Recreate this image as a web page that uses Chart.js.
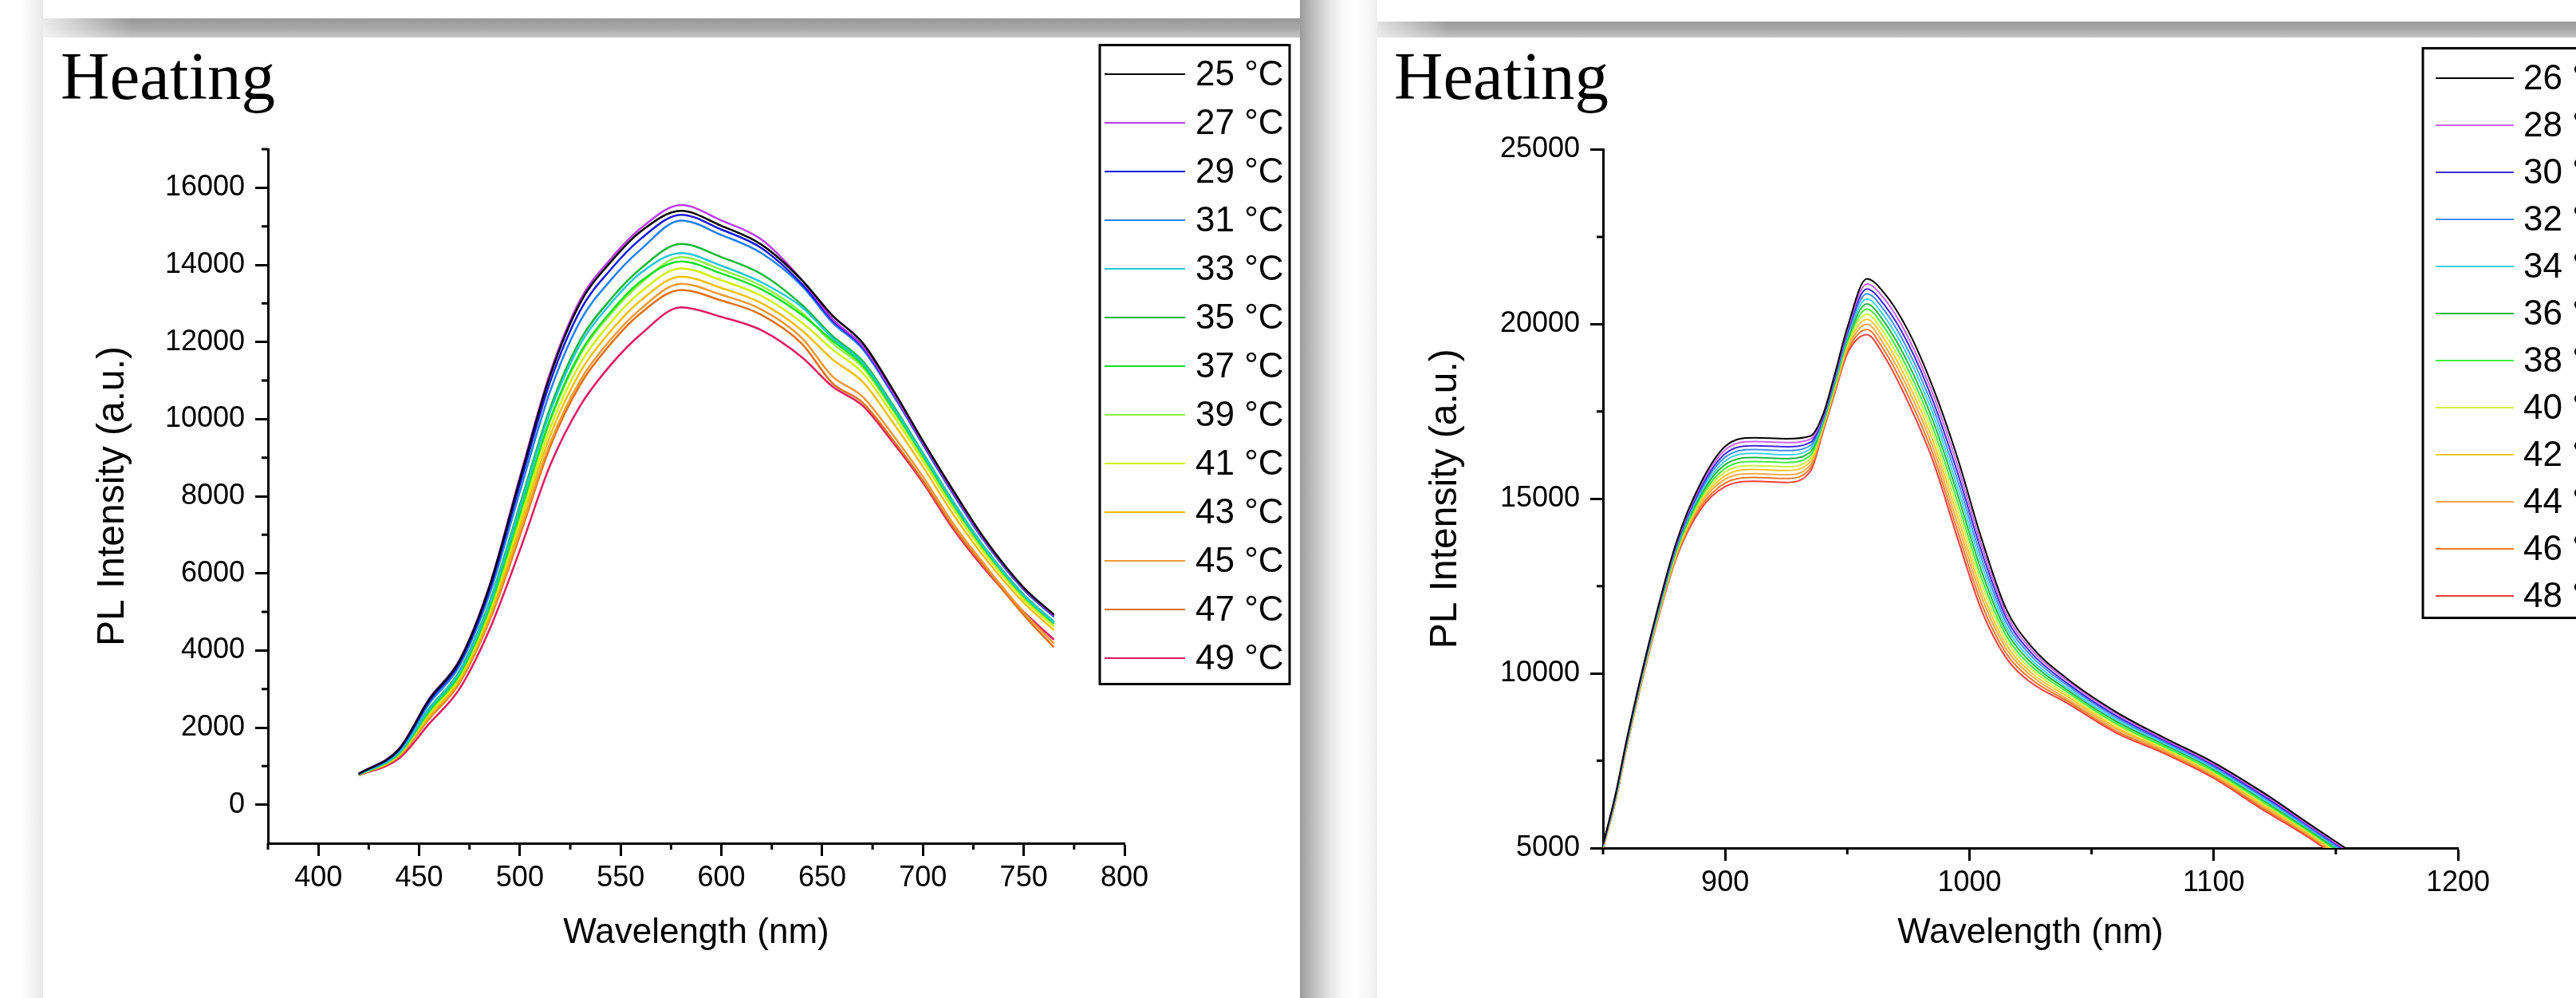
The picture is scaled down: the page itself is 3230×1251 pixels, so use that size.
<!DOCTYPE html>
<html>
<head>
<meta charset="utf-8">
<title>Heating</title>
<script src="https://cdn.jsdelivr.net/npm/chart.js@4/dist/chart.umd.min.js"></script>
<style>
body { margin: 0; width: 3230px; height: 1251px; overflow: hidden; background: #fff; position: relative; }
.shade, .panel { position: absolute; }
.panel { top: 47px; height: 1204px; background: #fff; }
#leftPanel { left: 54px; width: 1576px; }
#rightPanel { left: 1727px; width: 1503px; }
#edge { left: 26px; top: 0; width: 28px; height: 1251px; background: linear-gradient(to right, #fff, #f5f5f5 45%, #e9e9e9); }
#bandLeft { left: 54px; top: 23px; width: 1576px; height: 24px; background: linear-gradient(to bottom, #979797, #a8a8a8 50%, #c5c5c5); }
#bandRight { left: 1727px; top: 27px; width: 1503px; height: 20px; background: linear-gradient(to bottom, #999, #aaa 50%, #c3c3c3); }
#fadeLeft { left: 54px; top: 23px; width: 110px; height: 24px; background: linear-gradient(to right, rgba(255,255,255,0.8), rgba(255,255,255,0)); }
#fadeRight { left: 1727px; top: 27px; width: 90px; height: 20px; background: linear-gradient(to right, rgba(255,255,255,0.7), rgba(255,255,255,0)); }
#gap { left: 1630px; top: 0; width: 97px; height: 1251px; background: linear-gradient(to right, #9b9b9b, #b3b3b3 12%, #cecece 26%, #e6e6e6 40%, #f9f9f9 55%, #fff 72%, #f6f6f6 90%, #ededed); }
</style>
</head>
<body>
<div class="shade" id="edge"></div>
<div class="shade" id="bandLeft"></div>
<div class="shade" id="fadeLeft"></div>
<div class="shade" id="gap"></div>
<div class="shade" id="bandRight"></div>
<div class="shade" id="fadeRight"></div>
<div class="panel" id="leftPanel"><canvas id="leftChart" width="1576" height="1204"></canvas></div>
<div class="panel" id="rightPanel"><canvas id="rightChart" width="1503" height="1204"></canvas></div>
<script>
'use strict';
Chart.defaults.color = '#000';
Chart.defaults.font.family = 'Liberation Sans';

//Left panel: visible spectra, 25-49 °C
var leftWavelengths = [420, 440, 455, 470, 485, 500, 515, 530, 545, 560, 580, 600, 620, 640, 655, 670, 685, 700, 715, 730, 750, 765];
var leftTemps = [25, 27, 29, 31, 33, 35, 37, 39, 41, 43, 45, 47, 49];
var leftColors = ['#000000', '#b83cf0', '#1818e0', '#2080f0', '#20c8d8', '#10b838', '#10e020', '#90f040', '#d0f000', '#f0c000', '#f09830', '#e07010', '#e01860'];
var left25 = [800, 1440, 2730, 3730, 5670, 8440, 11130, 13020, 14070, 14870, 15400, 15010, 14520, 13600, 12690, 11980, 10770, 9430, 8150, 6940, 5630, 4930];
var left27 = [800, 1450, 2750, 3750, 5700, 8500, 11200, 13100, 14150, 14950, 15550, 15150, 14650, 13600, 12600, 11900, 10700, 9380, 8100, 6900, 5600, 4900];
var left29 = [800, 1425, 2685, 3675, 5585, 8310, 10960, 12825, 13875, 14675, 15300, 14915, 14430, 13500, 12565, 11870, 10675, 9360, 8080, 6885, 5590, 4890];
var left31 = [792, 1400, 2620, 3600, 5470, 8120, 10720, 12550, 13600, 14400, 15150, 14775, 14300, 13450, 12510, 11820, 10635, 9330, 8050, 6860, 5570, 4870];
var left33 = [783, 1345, 2480, 3435, 5215, 7700, 10190, 11945, 12995, 13795, 14305, 13975, 13545, 12900, 12110, 11466, 10336, 9092, 7834, 6690, 5432, 4726];
var left35 = [785, 1355, 2500, 3465, 5265, 7780, 10290, 12055, 13105, 13905, 14545, 14200, 13757, 12960, 12160, 11510, 10375, 9120, 7860, 6710, 5450, 4745];
var left37 = [780, 1325, 2425, 3375, 5125, 7550, 10000, 11725, 12775, 13575, 14090, 13775, 13360, 12700, 12040, 11404, 10284, 9050, 7796, 6660, 5408, 4702];
var left39 = [779, 1320, 2412, 3360, 5102, 7512, 9952, 11670, 12720, 13520, 14200, 13875, 13450, 12760, 11970, 11342, 10232, 9009, 7758, 6630, 5384, 4677];
var left41 = [776, 1300, 2360, 3300, 5010, 7360, 9760, 11450, 12500, 13300, 13907, 13600, 13193, 12500, 11812, 11202, 10115, 8916, 7672, 6562, 5330, 4621];
var left43 = [773, 1280, 2308, 3240, 4918, 7208, 9568, 11230, 12280, 13080, 13695, 13400, 13005, 12300, 11550, 10970, 9920, 8762, 7530, 6450, 5240, 4528];
var left45 = [770, 1260, 2256, 3180, 4826, 7056, 9376, 11010, 12060, 12860, 13510, 13225, 12840, 12100, 11112, 10582, 9595, 8505, 7292, 6262, 4990, 4180];
var left47 = [768, 1250, 2230, 3150, 4780, 6980, 9280, 10900, 11950, 12750, 13350, 13075, 12700, 11950, 10937, 10428, 9465, 8400, 7198, 6188, 4920, 4080];
var left49 = [760, 1200, 2100, 3000, 4550, 6600, 8800, 10350, 11400, 12200, 12900, 12650, 12300, 11600, 10850, 10350, 9400, 8350, 7150, 6150, 5000, 4280];
var leftSeries = [left25, left27, left29, left31, left33, left35, left37, left39, left41, left43, left45, left47, left49];
var leftXTicks = [400, 450, 500, 550, 600, 650, 700, 750, 800];
var leftXMinor = [375, 425, 475, 525, 575, 625, 675, 725, 775];
var leftYTicks = [0, 2000, 4000, 6000, 8000, 10000, 12000, 14000, 16000];
var leftYMinor = [1000, 3000, 5000, 7000, 9000, 11000, 13000, 15000, 17000];

//Right panel: NIR spectra, 26-48 °C
var rightWavelengths = [850, 855, 860, 870, 880, 890, 900, 912, 925, 935, 940, 945, 950, 958, 965, 975, 985, 995, 1005, 1015, 1025, 1040, 1060, 1080, 1100, 1120, 1140, 1155];
var rightTemps = [26, 28, 30, 32, 34, 36, 38, 40, 42, 44, 46, 48];
var rightColors = ['#000000', '#c864f0', '#4028e0', '#4090f0', '#40d0f0', '#20b840', '#40f040', '#d0f040', '#f8c828', '#f8a848', '#f07828', '#f04040'];
var right26 = [5100, 6500, 8200, 11200, 13750, 15450, 16500, 16750, 16720, 16800, 17400, 18600, 19900, 21300, 20900, 19800, 18200, 16200, 13850, 11850, 10800, 9850, 8900, 8150, 7450, 6600, 5650, 4950];
var right28 = [5090, 6480, 8180, 11170, 13710, 15380, 16400, 16640, 16610, 16710, 17360, 18550, 19830, 21150, 20740, 19610, 18010, 15990, 13660, 11720, 10710, 9790, 8850, 8110, 7410, 6560, 5610, 4910];
var right30 = [5080, 6460, 8160, 11150, 13670, 15310, 16290, 16520, 16490, 16620, 17310, 18500, 19760, 21010, 20570, 19430, 17820, 15780, 13480, 11600, 10610, 9720, 8790, 8070, 7370, 6510, 5580, 4870];
var right32 = [5070, 6450, 8150, 11120, 13630, 15250, 16190, 16410, 16380, 16530, 17270, 18450, 19700, 20870, 20410, 19240, 17630, 15570, 13290, 11470, 10520, 9660, 8740, 8030, 7330, 6470, 5540, 4830];
var right34 = [5060, 6430, 8130, 11090, 13590, 15180, 16080, 16300, 16260, 16440, 17220, 18400, 19630, 20720, 20240, 19060, 17440, 15360, 13110, 11340, 10420, 9590, 8680, 7990, 7290, 6420, 5510, 4790];
var right36 = [5060, 6410, 8110, 11070, 13550, 15110, 15980, 16180, 16150, 16350, 17180, 18350, 19560, 20580, 20080, 18870, 17250, 15160, 12920, 11220, 10330, 9530, 8630, 7950, 7250, 6380, 5470, 4750];
var right38 = [5050, 6390, 8090, 11040, 13500, 15040, 15870, 16070, 16040, 16250, 17130, 18300, 19490, 20430, 19920, 18680, 17050, 14950, 12730, 11090, 10230, 9470, 8570, 7900, 7200, 6330, 5430, 4700];
var right40 = [5040, 6370, 8070, 11010, 13460, 14970, 15770, 15950, 15920, 16160, 17090, 18250, 19420, 20290, 19750, 18500, 16860, 14740, 12550, 10960, 10140, 9400, 8520, 7860, 7160, 6290, 5400, 4660];
var right42 = [5030, 6360, 8060, 10980, 13420, 14910, 15660, 15840, 15810, 16070, 17040, 18200, 19360, 20140, 19590, 18310, 16670, 14530, 12360, 10830, 10040, 9340, 8460, 7820, 7120, 6240, 5360, 4620];
var right44 = [5020, 6340, 8040, 10960, 13380, 14840, 15560, 15720, 15690, 15980, 17000, 18150, 19290, 20000, 19420, 18130, 16480, 14320, 12180, 10710, 9950, 9270, 8410, 7780, 7080, 6200, 5330, 4580];
var right46 = [5010, 6320, 8020, 10930, 13340, 14770, 15450, 15610, 15580, 15890, 16950, 18100, 19220, 19850, 19260, 17940, 16290, 14110, 11990, 10580, 9850, 9210, 8350, 7740, 7040, 6150, 5290, 4540];
var right48 = [5000, 6300, 8000, 10900, 13300, 14700, 15350, 15500, 15470, 15800, 16900, 18050, 19150, 19700, 19100, 17750, 16100, 13900, 11800, 10450, 9750, 9150, 8300, 7700, 7000, 6100, 5250, 4500];
var rightSeries = [right26, right28, right30, right32, right34, right36, right38, right40, right42, right44, right46, right48];
var rightXTicks = [900, 1000, 1100, 1200];
var rightXMinor = [850, 950, 1050, 1150];
var rightYTicks = [5000, 10000, 15000, 20000, 25000];
var rightYMinor = [7500, 12500, 17500, 22500];

//Title, legend box and minor ticks drawn on top of the chart
function decorPlugin(opt) {
  return {
    id: 'decor',
    afterDraw: function (chart) {
      var ctx = chart.ctx;
      var area = chart.chartArea;
      var xs = chart.scales.x;
      var ys = chart.scales.y;
      ctx.save();
      ctx.strokeStyle = '#000';
      ctx.lineWidth = 3;
      ctx.beginPath();
      opt.minorX.forEach(function (v) {
        var px = xs.getPixelForValue(v);
        ctx.moveTo(px, area.bottom);
        ctx.lineTo(px, area.bottom + 8);
      });
      opt.minorY.forEach(function (v) {
        var py = ys.getPixelForValue(v);
        ctx.moveTo(area.left - 8, py);
        ctx.lineTo(area.left, py);
      });
      ctx.stroke();

      ctx.fillStyle = '#000';
      ctx.textAlign = 'left';
      ctx.textBaseline = 'alphabetic';
      ctx.font = '85px "Liberation Serif"';
      ctx.fillText('Heating', opt.titleX, opt.titleY);

      ctx.lineWidth = 3;
      ctx.strokeRect(opt.box[0], opt.box[1], opt.box[2], opt.box[3]);
      ctx.font = '44px "Liberation Sans"';
      ctx.textBaseline = 'middle';
      chart.data.datasets.forEach(function (ds, i) {
        var y = opt.rowY + i * opt.rowStep;
        ctx.strokeStyle = ds.borderColor;
        ctx.lineWidth = 2;
        ctx.beginPath();
        ctx.moveTo(opt.lineX[0], y);
        ctx.lineTo(opt.lineX[1], y);
        ctx.stroke();
        ctx.fillText(ds.label, opt.textX, y + 2);
      });
      ctx.restore();
    }
  };
}

function axisOptions(min, max, ticks, size, pad, title, titleSize, titlePad) {
  return {
    type: 'linear',
    min: min,
    max: max,
    afterBuildTicks: function (scale) {
      scale.ticks = ticks.map(function (v) { return {value: v}; });
    },
    afterFit: function (scale) {
      if (scale.isHorizontal()) {
        scale.height = size;
      } else {
        scale.width = size;
      }
    },
    ticks: {autoSkip: false, maxRotation: 0, padding: pad, font: {size: 36}, callback: function (v) { return String(v); }},
    grid: {drawOnChartArea: false, tickLength: 16, tickWidth: 3, tickColor: '#000'},
    border: {color: '#000', width: 3},
    title: {display: true, text: title, font: {size: titleSize}, padding: titlePad}
  };
}

function drawSpectra(canvasId, wl, series, temps, colors, lineWidth, cfg) {
  var sets = [];
  for (var i = 0; i < series.length; i++) {
    var pts = [];
    for (var j = 0; j < wl.length; j++) {
      pts.push({x: wl[j], y: series[i][j]});
    }
    sets.push({
      label: temps[i] + ' \u00b0C',
      data: pts,
      borderColor: colors[i],
      borderWidth: lineWidth,
      pointRadius: 0,
      fill: false,
      cubicInterpolationMode: 'monotone'
    });
  }
  return new Chart(document.getElementById(canvasId), {
    type: 'line',
    data: {datasets: sets},
    options: {
      responsive: false,
      animation: false,
      devicePixelRatio: 1,
      layout: {padding: cfg.padding},
      plugins: {legend: {display: false}, tooltip: {enabled: false}, title: {display: false}},
      scales: {
        x: cfg.x,
        y: cfg.y
      }
    },
    plugins: [decorPlugin(cfg.decor)]
  });
}

drawSpectra('leftChart', leftWavelengths, leftSeries, leftTemps, leftColors, 2.5, {
  padding: {left: 40, right: 220, top: 140, bottom: 40},
  x: axisOptions(375, 800, leftXTicks, 154, 6, 'Wavelength (nm)', 44, {top: 0, bottom: 15}),
  y: axisOptions(-1000, 17000, leftYTicks, 242, 13, 'PL Intensity (a.u.)', 48, {top: 19, bottom: 0}),
  decor: {titleX: 22, titleY: 77, box: [1325, 9.5, 238, 801], lineX: [1331, 1432], textX: 1445, rowY: 46, rowStep: 61, minorX: leftXMinor, minorY: leftYMinor}
});

drawSpectra('rightChart', rightWavelengths, rightSeries, rightTemps, rightColors, 2, {
  padding: {left: 40, right: 148, top: 140.5, bottom: 40},
  x: axisOptions(850, 1200, rightXTicks, 148, 6, 'Wavelength (nm)', 44, {top: 0, bottom: 15}),
  y: axisOptions(5000, 25000, rightYTicks, 243, 13, 'PL Intensity (a.u.)', 48, {top: 17, bottom: 0}),
  decor: {titleX: 21, titleY: 77, box: [1311, 13.5, 260, 714], lineX: [1327, 1425], textX: 1437, rowY: 51, rowStep: 59, minorX: rightXMinor, minorY: rightYMinor}
});
</script>
</body>
</html>
